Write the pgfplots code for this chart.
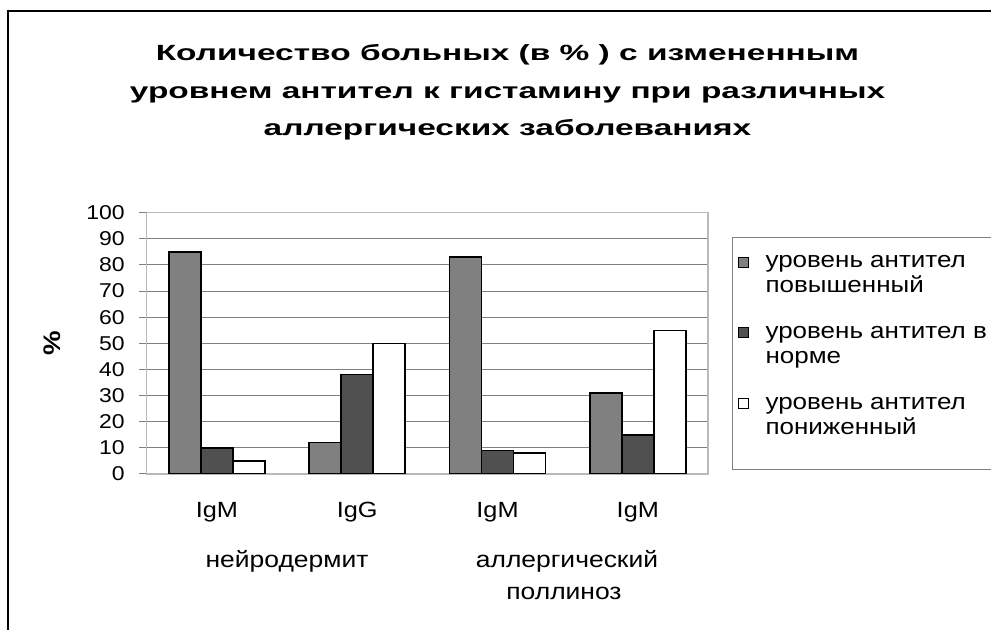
\documentclass[border=0pt]{standalone}
\usepackage{pgfplots}
\pgfplotsset{compat=1.18}
\usepackage{fontspec}
\setmainfont{Liberation Sans}[FakeStretch=1.15]
\newfontfamily\titlefont{Liberation Sans}[FakeStretch=1.52]
\definecolor{barA}{RGB}{128,128,128}
\definecolor{barB}{RGB}{80,80,80}
\definecolor{gridc}{RGB}{128,128,128}
\definecolor{boxc}{RGB}{185,185,185}
\begin{document}
\begin{tikzpicture}
\useasboundingbox (0,0) rectangle (495.5pt,315pt);
\draw[line width=1pt] (4pt,-10pt) -- (4pt,309.5pt) -- (520pt,309.5pt);
\begin{scope}[every node/.style={font=\titlefont\bfseries\fontsize{11}{13}\selectfont, anchor=base}]
\node at (253.75pt,284.5pt) {Количество больных (в \% ) с измененным};
\node at (253.75pt,265.5pt) {уровнем антител к гистамину при различных};
\node at (253.75pt,247pt) {аллергических заболеваниях};
\end{scope}
\begin{axis}[
  scale only axis, width=280.65pt, height=130.65pt,
  at={(73.35pt,78pt)}, anchor=south west,
  ybar=0pt, bar width=0.228,
  xmin=-0.5, xmax=3.5, ymin=0, ymax=100,
  xtick={0,1,2,3}, xticklabels={IgM,IgG,IgM,IgM},
  ytick={0,10,...,100},
  ymajorgrids, major grid style={gridc, line width=0.5pt},
  axis line style={boxc, line width=0.6pt},
  tick align=outside, major tick length=4pt,
  xtick style={draw=none}, ytick pos=left,
  ytick style={gridc, line width=0.5pt},
  /pgf/number format/assume math mode=true,
  yticklabel style={font=\fontsize{10}{12}\selectfont, xshift=-3.5pt},
  xticklabel style={font=\fontsize{11}{12}\selectfont, anchor=base, yshift=-18pt},
  ylabel={\%},
  ylabel style={at={(axis description cs:-0.169,0.5)}, anchor=center, font=\bfseries\fontsize{12}{12}\selectfont},
  legend style={at={(axis description cs:1.0422,0.907)}, anchor=north west,
    draw=gridc, line width=0.5pt, font=\fontsize{11.3}{12.5}\selectfont,
    cells={align=left}, row sep=4pt, inner ysep=7pt},
  legend cell align=left,
  legend image code/.code={\draw[#1, draw=black, line width=0.4pt] (0pt,4.3pt) rectangle (5pt,9.3pt); \path[draw=none,fill=none] (0pt,6.8pt) -- (11.5pt,6.8pt) (0pt,-19.3pt) -- (0pt,0pt);},
]
\addplot[fill=barA, draw=black, line width=0.75pt] coordinates {(0,85) (1,12) (2,83) (3,31)};
\addplot[fill=barB, draw=black, line width=0.75pt] coordinates {(0,10) (1,38) (2,9) (3,15)};
\addplot[fill=white, draw=black, line width=0.75pt] coordinates {(0,5) (1,50) (2,8) (3,55)};
\legend{{уровень антител\\повышенный},{уровень антител в\\норме},{уровень антител\\пониженный}}
\end{axis}
\begin{scope}[every node/.style={font=\fontsize{11.5}{12}\selectfont, anchor=base}]
\node at (143.5pt,31pt) {нейродермит};
\node at (283.5pt,31pt) {аллергический};
\node at (282pt,15pt) {поллиноз};
\end{scope}
\end{tikzpicture}
\end{document}
